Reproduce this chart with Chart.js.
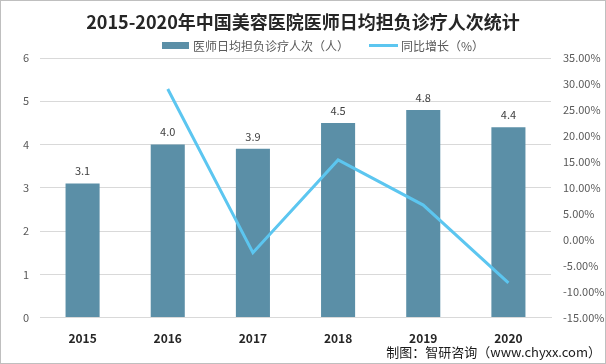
<!DOCTYPE html>
<html>
<head>
<meta charset="utf-8">
<script src="https://cdn.jsdelivr.net/npm/chart.js@4"></script>
<style>
  html, body { margin: 0; padding: 0; background: #fff; }
  #wrap { width: 606px; height: 364px; position: relative; }
</style>
</head>
<body>
<div id="wrap"><canvas id="chart" width="606" height="364"></canvas></div>
<script>
// Data
const years = ['2015', '2016', '2017', '2018', '2019', '2020'];
const visits = [3.1, 4.0, 3.9, 4.5, 4.8, 4.4];
const growth = [null, 29.03, -2.5, 15.38, 6.67, -8.33];

const TITLE = '2015-2020年中国美容医院医师日均担负诊疗人次统计';
const BAR_LABEL = '医师日均担负诊疗人次（人）';
const LINE_LABEL = '同比增长（%）';
const SOURCE = '制图：智研咨询（www.chyxx.com）';

const BAR_COLOR = '#5B8FA7';
const LINE_COLOR = '#5CC6F0';
const FONT = '"Noto Sans CJK SC", "Liberation Sans", sans-serif';

// Title, legend, footer, frame
const decor = {
    id: 'decor',
    beforeDraw (chart) {
        const c = chart.ctx;
        c.save();
        c.fillStyle = '#fff';
        c.fillRect(0, 0, chart.width, chart.height);
        c.restore();
    },
    afterDraw (chart) {
        const c = chart.ctx;
        c.save();
        // title
        c.fillStyle = '#262626';
        c.font = 'bold 18px "Noto Sans CJK SC", sans-serif';
        c.textAlign = 'center';
        c.textBaseline = 'middle';
        c.fillText(TITLE, 303, 22);

        // legend
        c.font = '12px ' + FONT;
        c.textAlign = 'left';
        c.fillStyle = BAR_COLOR;
        c.fillRect(162, 42, 27, 7);
        c.fillStyle = '#595959';
        c.fillText(BAR_LABEL, 193, 46);
        c.strokeStyle = LINE_COLOR;
        c.lineWidth = 3;
        c.beginPath();
        c.moveTo(369, 45.5);
        c.lineTo(398, 45.5);
        c.stroke();
        c.fillText(LINE_LABEL, 401, 46);

        // values above bars
        const meta = chart.getDatasetMeta(0);
        c.font = '11px ' + FONT;
        c.textAlign = 'center';
        c.textBaseline = 'bottom';
        c.fillStyle = '#404040';
        meta.data.forEach((bar, i) => {
            c.fillText(visits[i].toFixed(1), bar.x, bar.y - 7);
        });

        // source
        c.font = '13px ' + FONT;
        c.textAlign = 'right';
        c.textBaseline = 'middle';
        c.fillStyle = '#1a1a1a';
        c.fillText(SOURCE, 601, 352);

        // frame
        c.strokeStyle = '#BFBFBF';
        c.lineWidth = 1;
        c.strokeRect(0.5, 0.5, chart.width - 1, chart.height - 1);
        c.restore();
    }
};

const ctx = document.getElementById('chart').getContext('2d');
const chart = new Chart(ctx, {
    data: {
        labels: years,
        datasets: [{
            type: 'bar',
            label: BAR_LABEL,
            data: visits,
            backgroundColor: BAR_COLOR,
            barPercentage: 0.4,
            categoryPercentage: 1,
            yAxisID: 'y',
            order: 2
        }, {
            type: 'line',
            label: LINE_LABEL,
            data: growth,
            borderColor: LINE_COLOR,
            borderWidth: 3,
            pointRadius: 0,
            tension: 0,
            yAxisID: 'y1',
            order: 1
        }]
    },
    options: {
        responsive: false,
        animation: false,
        layout: { padding: { top: 58, bottom: 12, left: 0, right: 0 } },
        plugins: {
            legend: { display: false },
            title: { display: false },
            tooltip: { enabled: false }
        },
        scales: {
            x: {
                grid: { display: false },
                border: { color: '#D9D9D9' },
                ticks: { color: '#262626', font: { family: FONT, size: 12, weight: 'bold' }, padding: 6 }
            },
            y: {
                min: 0,
                max: 6,
                ticks: { stepSize: 1, color: '#595959', font: { family: FONT, size: 11 }, padding: 11 },
                grid: { color: '#D9D9D9', drawTicks: false },
                border: { display: false },
                afterFit (scale) { scale.width = 40; }
            },
            y1: {
                position: 'right',
                min: -15,
                max: 35,
                ticks: {
                    stepSize: 5,
                    color: '#595959',
                    font: { family: FONT, size: 11 },
                    padding: 12,
                    callback: (v) => v.toFixed(2) + '%'
                },
                grid: { drawOnChartArea: false, drawTicks: false },
                border: { display: false },
                afterFit (scale) { scale.width = 55; }
            }
        }
    },
    plugins: [decor]
});
</script>
</body>
</html>
